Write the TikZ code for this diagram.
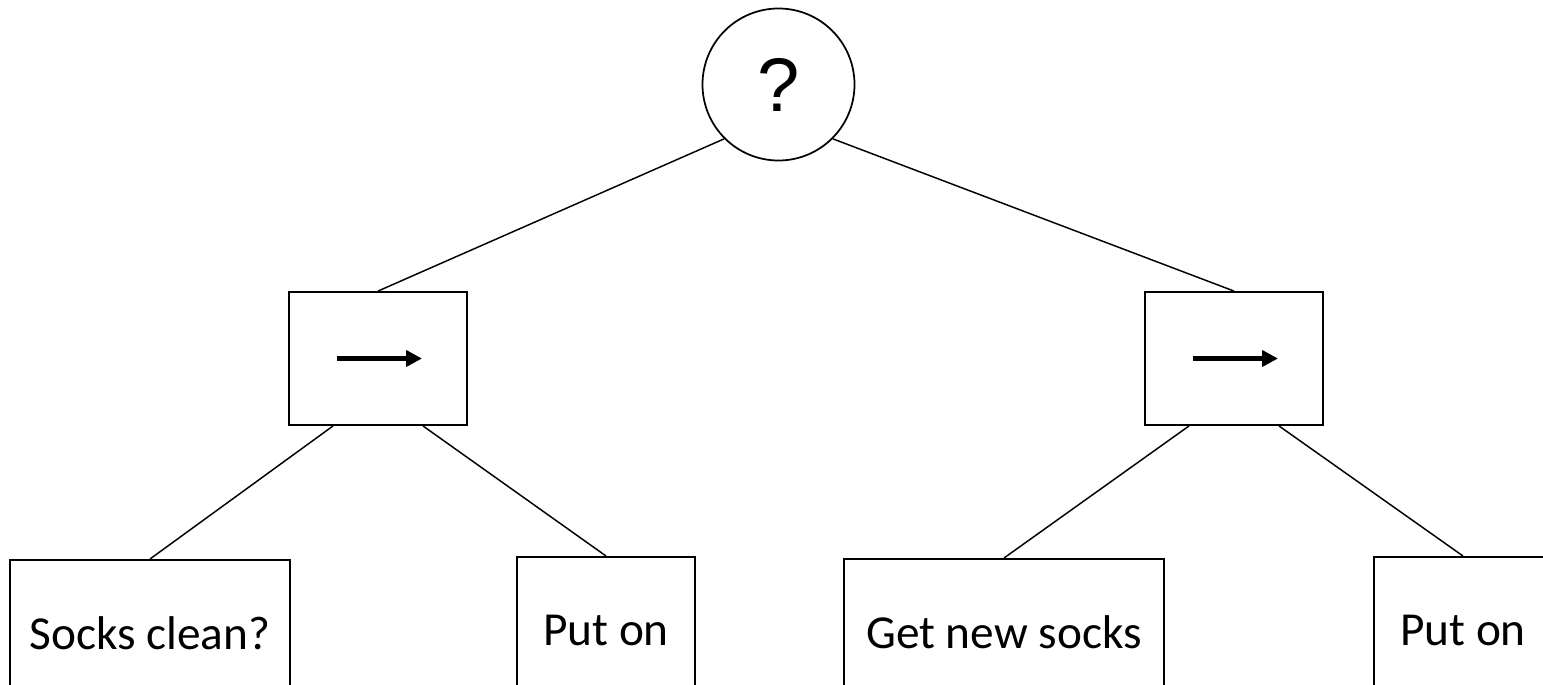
\documentclass[tikz,border=0pt]{standalone}
\usepackage{fontspec}
\setmainfont{Carlito}
\newfontfamily\qfont{Liberation Sans}
\usetikzlibrary{arrows.meta,calc}
\begin{document}
\begin{tikzpicture}[x=0.75pt,y=-0.75pt,
  selector/.style={draw, circle, line width=1.3pt, minimum size=114pt, inner sep=0pt,
    font=\qfont\fontsize{57}{60}\selectfont},
  seqbox/.style={draw, rectangle, line width=1.4pt, minimum width=133.5pt,
    minimum height=99.75pt, inner sep=0pt},
  leafbox/.style={draw, rectangle, line width=1.4pt, minimum height=110pt,
    inner sep=0pt, anchor=north, font=\fontsize{35.5}{40}\selectfont},
  seqarrow/.style={line width=4.2pt, -{Triangle[length=12pt,width=12pt]}},
  edge/.style={line width=1.1pt}]
\useasboundingbox (0,0) rectangle (1543,685);
\clip (0,0) rectangle (1543,685);

% root fallback node
\node[selector] (q) at (778.5,84.5) {?};

% sequence nodes
\node[seqbox] (lb) at (378,358.5) {};
\node[seqbox] (rb) at (1234,358.5) {};
\draw[seqarrow] ([xshift=-30.75pt]lb.center) -- ([xshift=33pt]lb.center);
\draw[seqarrow] ([xshift=-30.75pt]rb.center) -- ([xshift=33pt]rb.center);

% leaves
\node[leafbox, minimum width=210pt] (l1) at (150,559) {Socks clean?};
\node[leafbox, minimum width=133.5pt] (l2) at (606,556) {Put on};
\node[leafbox, minimum width=240pt] (l3) at (1004,558) {Get new socks};
\node[leafbox, minimum width=133.5pt] (l4) at (1463,556) {Put on};

% connectors
\draw[edge] (q.225) -- (lb.north);
\draw[edge] (q.315) -- (rb.north);
\draw[edge] ($(lb.south west)!0.25!(lb.south east)$) -- (l1.north);
\draw[edge] ($(lb.south west)!0.75!(lb.south east)$) -- (l2.north);
\draw[edge] ($(rb.south west)!0.25!(rb.south east)$) -- (l3.north);
\draw[edge] ($(rb.south west)!0.75!(rb.south east)$) -- (l4.north);
\end{tikzpicture}
\end{document}
